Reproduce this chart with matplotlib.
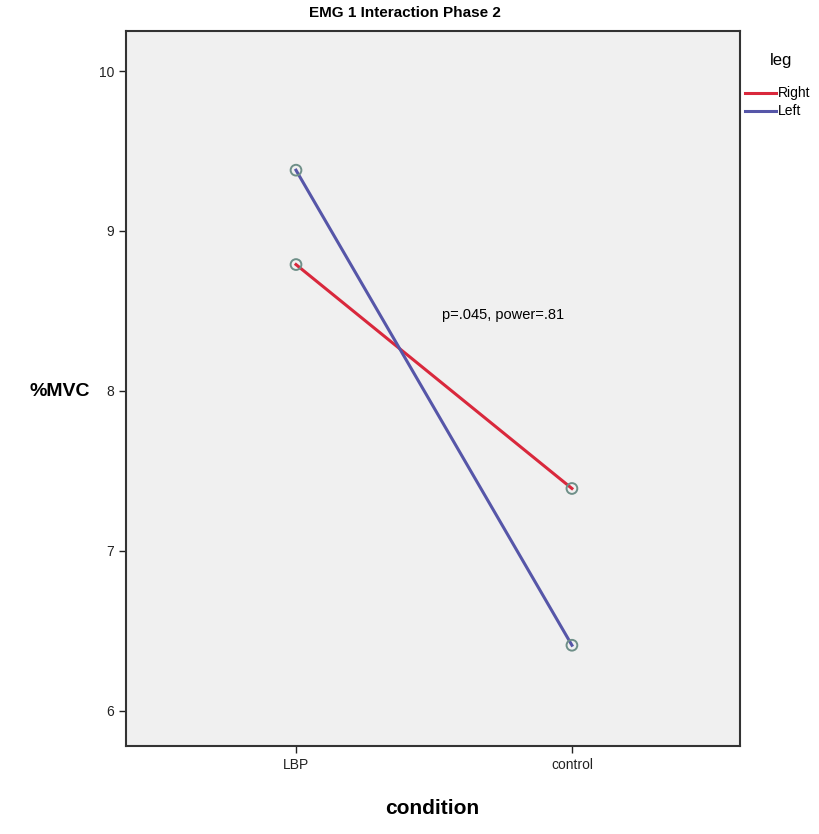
import matplotlib
matplotlib.use("Agg")
import matplotlib.pyplot as plt
from matplotlib.lines import Line2D

# données
conditions = ["LBP", "control"]
right_leg = [8.79, 7.39]
left_leg = [9.38, 6.41]
y_ticks = [6, 7, 8, 9, 10]

RED = "#d9283c"
BLUE = "#5656a8"

plt.rcParams['font.family'] = ['Liberation Sans', 'DejaVu Sans']

fig = plt.figure(figsize=(8.2, 8.34), dpi=100)
ax = fig.add_axes([0.1537, 0.1055, 0.7487, 0.8573])
ax.set_facecolor("#f0f0f0")

x = list(range(len(conditions)))
ax.plot(x, right_leg, color=RED, lw=2.2, zorder=2)
ax.plot(x, left_leg, color=BLUE, lw=2.2, zorder=2)
ax.scatter(x, right_leg, s=60, facecolors="none", edgecolors="#6e8f88", lw=1.4, zorder=3)
ax.scatter(x, left_leg, s=60, facecolors="none", edgecolors="#6e8f88", lw=1.4, zorder=3)

ax.set_xlim(-0.616, 1.609)
ax.set_ylim(5.78, 10.25)
ax.set_xticks(x)
ax.set_xticklabels(conditions, fontsize=10)
ax.set_yticks(y_ticks)
ax.set_yticklabels([str(v) for v in y_ticks], fontsize=10)
ax.tick_params(direction="out", length=5, width=1, colors="#222222")

for s in ax.spines.values():
    s.set_color("#333333")
    s.set_linewidth(1.5)

ax.text(0.53, 8.475, "p=.045, power=.81", fontsize=10.5, va="center", ha="left")

fig.text(0.494, 0.985, "EMG 1 Interaction Phase 2", fontsize=11, fontweight="bold", ha="center", va="center")
fig.text(0.073, 0.53, "%MVC", fontsize=14, fontweight="bold", ha="center", va="center")
fig.text(0.527, 0.031, "condition", fontsize=15, fontweight="bold", ha="center", va="center")

# légende dessinée à la main (comme SPSS)
fig.text(781 / 820, 1 - 60 / 834, "leg", fontsize=12, ha="center", va="center")
for lbl, col, yy in [("Right", RED, 93), ("Left", BLUE, 111)]:
    yf = 1 - yy / 834
    fig.add_artist(Line2D([745 / 820, 776 / 820], [yf, yf], color=col, lw=2.2))
    fig.text(778 / 820, yf, lbl, fontsize=10, ha="left", va="center")

fig.savefig("out.png", dpi=100)
